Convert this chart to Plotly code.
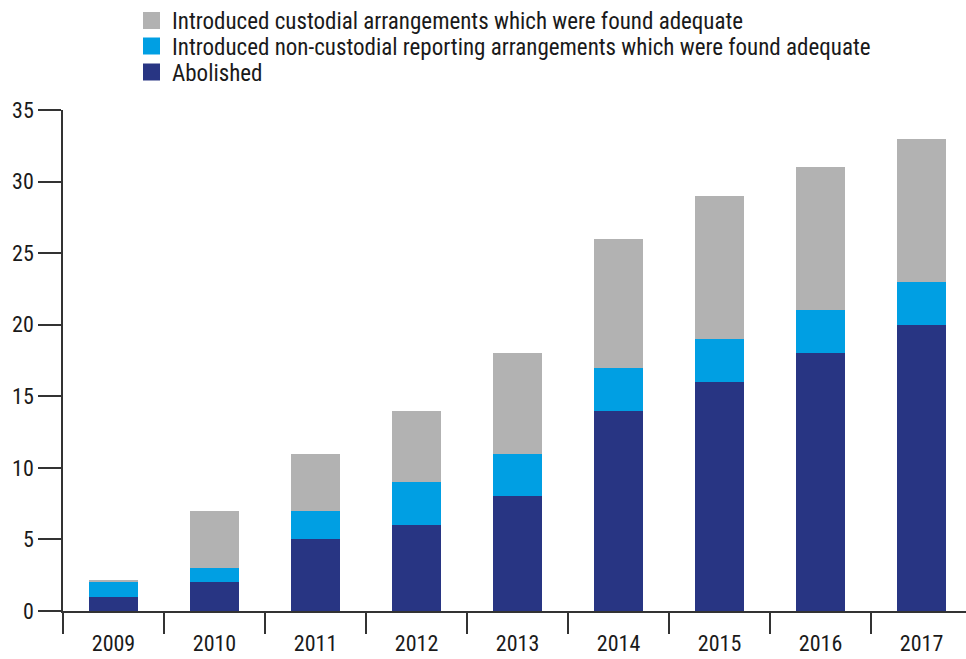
import plotly.graph_objects as go

years = ["2009", "2010", "2011", "2012", "2013", "2014", "2015", "2016", "2017"]
abolished = [1, 2, 5, 6, 8, 14, 16, 18, 20]
non_custodial = [1, 1, 2, 3, 3, 3, 3, 3, 3]
custodial = [0.2, 4, 4, 5, 7, 9, 10, 10, 10]

names = [
    "Abolished",
    "Introduced non-custodial reporting arrangements which were found adequate",
    "Introduced custodial arrangements which were found adequate",
]
colors = ["#283583", "#009FE3", "#B2B2B2"]
FONT = "Roboto Condensed, Liberation Sans Narrow, Arial Narrow, sans-serif"

W, H = 966, 659
L, R, T, B = 63, 0, 110, 48
PW, PH = W - L - R, H - T - B


def px(x):
    return (x - L) / PW


def py(y):
    return (H - B - y) / PH


fig = go.Figure()
for vals, name, col in zip([abolished, non_custodial, custodial], names, colors):
    fig.add_trace(go.Bar(x=years, y=vals, name=name, marker=dict(color=col, line=dict(width=0)),
                         width=0.49, showlegend=False))

# custom legend (top to bottom: custodial, non-custodial, abolished)
rows = [20.5, 46, 72]
for rowy, name, col in zip(rows, names[::-1], colors[::-1]):
    fig.add_shape(type="rect", xref="paper", yref="paper",
                  x0=px(143), x1=px(160), y0=py(rowy + 8.5), y1=py(rowy - 8.5),
                  fillcolor=col, line=dict(width=0))
    fig.add_annotation(xref="paper", yref="paper", x=px(170), y=py(rowy + 1),
                       xanchor="left", yanchor="middle", text=name, showarrow=False,
                       font=dict(family=FONT, size=23, color="#1a1a1a"))

fig.update_layout(
    width=W, height=H,
    barmode="stack",
    plot_bgcolor="white", paper_bgcolor="white",
    margin=dict(l=L, r=R, t=T, b=B, autoexpand=False),
    font=dict(family=FONT, size=22, color="#1a1a1a"),
    showlegend=False,
    xaxis=dict(type="category", range=[-0.5, 8.44], tickson="boundaries", ticks="outside",
               ticklen=21, tickwidth=1.5, tickcolor="#333", showline=True, linecolor="#333",
               linewidth=1.5, showgrid=False, automargin=False, tickfont=dict(size=22),
               ticklabelstandoff=12),
    yaxis=dict(range=[0, 35], tickvals=[0, 5, 10, 15, 20, 25, 30, 35], ticks="outside",
               ticklen=23, tickwidth=1.5, tickcolor="#333", showline=True, linecolor="#333",
               linewidth=1.5, showgrid=False, zeroline=False, automargin=False,
               tickfont=dict(size=22)),
)

fig.write_html("out.html", config={"displayModeBar": False},
               post_script="document.body.style.margin='0';")
